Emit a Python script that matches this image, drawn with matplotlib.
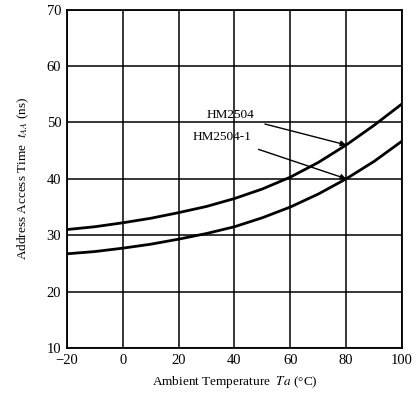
"""
    Address access time vs ambient temperature
"""
import matplotlib.pyplot as plt

temps = [-20, -10, 0, 10, 20, 30, 40, 50, 60, 70, 80, 90, 100]
hm2504 = [31.0, 31.5, 32.2, 33.0, 34.0, 35.1, 36.5, 38.2, 40.3, 42.9, 46.0, 49.5, 53.3]
hm2504_1 = [26.7, 27.1, 27.7, 28.4, 29.3, 30.3, 31.5, 33.1, 35.0, 37.3, 40.0, 43.1, 46.7]
xticks = [-20, 0, 20, 40, 60, 80, 100]
xtick_labels = ['−20', '0', '20', '40', '60', '80', '100']
yticks = [10, 20, 30, 40, 50, 60, 70]

plt.rcParams['font.family'] = ['Liberation Serif', 'DejaVu Serif']
plt.rcParams['mathtext.fontset'] = 'stix'

fig = plt.figure(figsize=(4.18, 4.0), dpi=100)
ax = fig.add_axes([0.160, 0.13, 0.802, 0.846])

ax.plot(temps, hm2504, color='black', linewidth=2.0)
ax.plot(temps, hm2504_1, color='black', linewidth=2.0)

ax.set_xlim(-20, 100)
ax.set_ylim(10, 70)
ax.set_xticks(xticks)
ax.set_xticklabels(xtick_labels)
ax.set_yticks(yticks)
ax.tick_params(length=0, labelsize=10.5, pad=4)
ax.grid(True, color='black', linewidth=1.1)
for s in ax.spines.values():
    s.set_linewidth(1.3)

# Etiquetas con flechas
ax.annotate('HM2504', xy=(80, 46.0), xytext=(47, 51.3), ha='right', va='center',
            fontsize=9.5, arrowprops=dict(arrowstyle='-|>', color='black', lw=1.0,
                                          shrinkA=6, shrinkB=0, mutation_scale=8))
ax.annotate('HM2504-1', xy=(80, 40.0), xytext=(46, 47.4), ha='right', va='center',
            fontsize=9.5, arrowprops=dict(arrowstyle='-|>', color='black', lw=1.0,
                                          shrinkA=8, shrinkB=0, mutation_scale=8))

ax.set_ylabel(r'Address Access Time  $t_{AA}$ (ns)', fontsize=9.5, labelpad=11)
ax.set_xlabel(r'Ambient Temperature  $Ta$ (°C)', fontsize=9.5, labelpad=5)

fig.savefig('out.png', dpi=100)
